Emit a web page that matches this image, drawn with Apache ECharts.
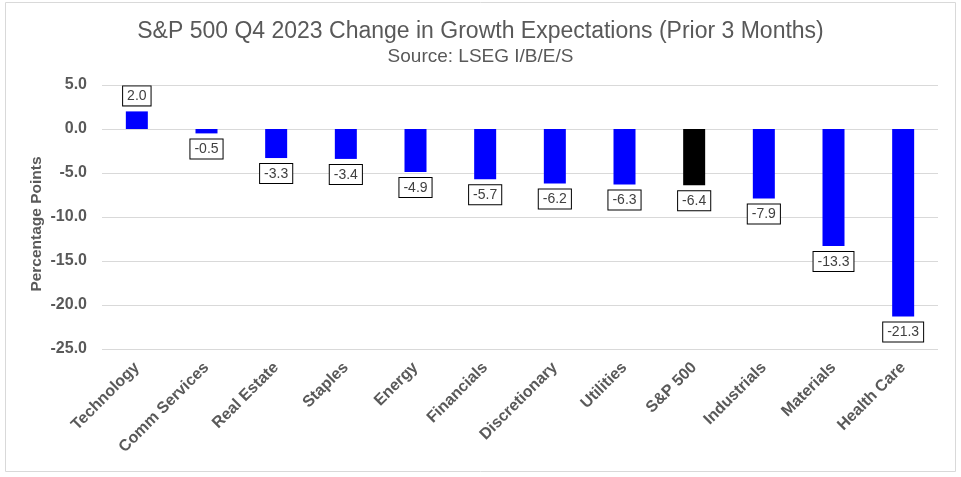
<!DOCTYPE html>
<html><head><meta charset="utf-8">
<script src="https://cdn.jsdelivr.net/npm/echarts@6/dist/echarts.min.js"></script>
<style>html,body{margin:0;padding:0;background:#fff}#c{width:961px;height:477px}</style>
</head><body><div id="c"></div>
<script>
const categories = ["Technology","Comm Services","Real Estate","Staples","Energy","Financials","Discretionary","Utilities","S&P 500","Industrials","Materials","Health Care"];
const values = [2.0,-0.5,-3.3,-3.4,-4.9,-5.7,-6.2,-6.3,-6.4,-7.9,-13.3,-21.3];
const highlight = "S&P 500";
const titleText = "S&P 500 Q4 2023 Change in Growth Expectations (Prior 3 Months)";
const subText = "Source: LSEG I/B/E/S";
const yName = "Percentage Points";

const FF = 'Liberation Sans, Arial';
const chart = echarts.init(document.getElementById('c'));
const data = values.map((v,i)=>({
  value: v,
  itemStyle: {color: categories[i]===highlight ? '#000000' : '#0000FF'},
  label: {position: v>=0 ? 'top' : 'bottom'}
}));
chart.setOption({
  animation:false,
  graphic:[
    {type:'rect',shape:{x:5.5,y:2.5,width:950,height:469},style:{fill:'none',stroke:'#d9d9d9',lineWidth:1}},
    {type:'text',x:37,y:224,rotation:Math.PI/2,style:{text:yName,fontFamily:FF,fontSize:15.5,fontWeight:'bold',fill:'#595959',align:'center',verticalAlign:'middle'}}
  ],
  title:[
    {text:titleText, left:'center', top:15,
     textStyle:{fontFamily:FF,fontSize:23,fontWeight:'normal',color:'#595959'}},
    {text:subText, left:'center', top:42,
     textStyle:{fontFamily:FF,fontSize:19,fontWeight:'normal',color:'#595959'}}
  ],
  grid:{left:102,right:23,top:85,bottom:128,containLabel:false},
  xAxis:{
    type:'category', data:categories,
    axisLine:{show:false}, axisTick:{show:false},
    axisLabel:{rotate:45,interval:0,fontFamily:FF,fontSize:16,fontWeight:'bold',color:'#595959',margin:16}
  },
  yAxis:{
    type:'value', min:-25, max:5, interval:5,
    axisLabel:{formatter:v=>v.toFixed(1),fontFamily:FF,fontSize:16,fontWeight:'bold',color:'#595959',margin:15},
    splitLine:{lineStyle:{color:'#d9d9d9',width:1}}
  },
  series:[{
    type:'bar', data:data, barWidth:22,
    label:{show:true,formatter:p=>p.value.toFixed(1),fontFamily:FF,fontSize:14,color:'#404040',
      backgroundColor:'#fff',borderColor:'#000',borderWidth:1,padding:[3,4,2,4],distance:6}
  }]
});
</script></body></html>
